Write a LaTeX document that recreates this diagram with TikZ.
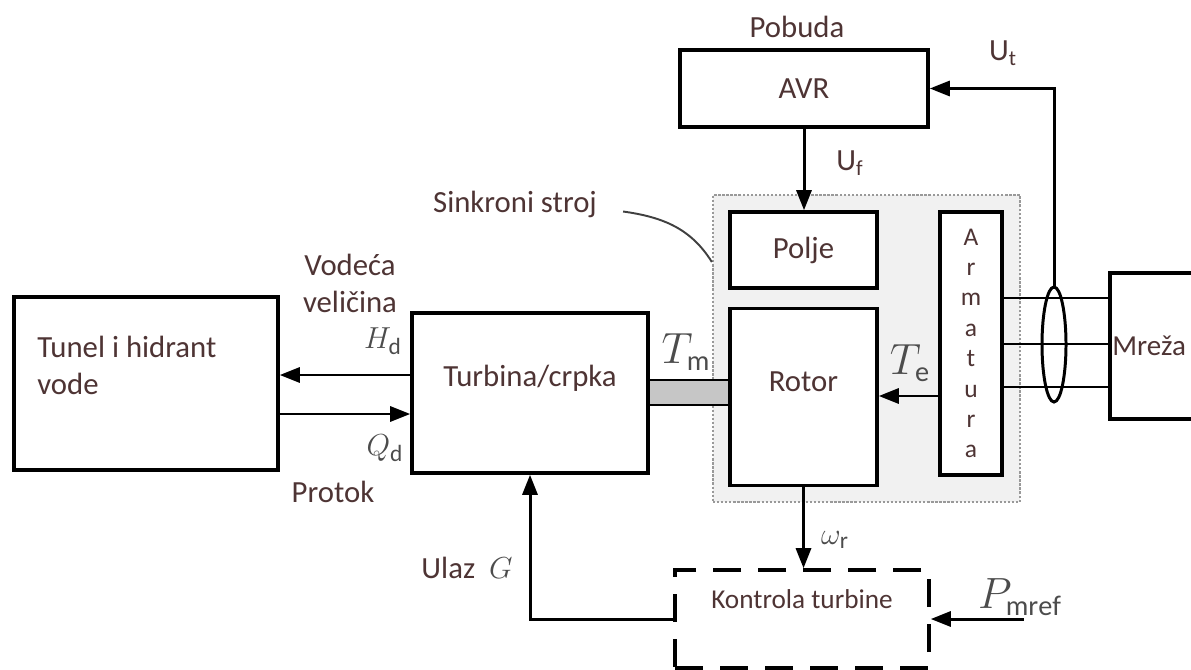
\documentclass[tikz,border=0pt]{standalone}
\usepackage{amsmath}
\usepackage{fontspec}
\setmainfont{Carlito}
\usetikzlibrary{positioning,arrows.meta,calc,shapes.geometric}
\definecolor{txtbrown}{RGB}{78,52,52}
\newcommand{\txtfs}{\fontsize{17.5}{21}\selectfont}
\newcommand{\smtxtfs}{\fontsize{15.5}{19}\selectfont}
\newcommand{\armfs}{\fontsize{14.5}{17.3}\selectfont}
\newcommand{\symfs}{\fontsize{19}{22}\selectfont}
\newcommand{\bigsymfs}{\fontsize{23}{26}\selectfont}
\newcommand{\lift}[2]{\raisebox{#1}[0pt][0pt]{#2}}

\begin{document}
\begin{tikzpicture}[
    box/.style={draw, line width=2pt, fill=white, align=center, font=\txtfs, text=txtbrown, inner sep=0pt},
    dashbox/.style={box, dash pattern=on 0.56cm off 0.34cm},
    frame/.style={draw=gray!80, densely dotted, line width=1.3pt, fill=gray!11},
    arrow/.style={-{Triangle[length=0.4cm,width=0.3cm]}, line width=1.7pt},
    wire/.style={line width=1.7pt},
    lbl/.style={font=\txtfs, text=txtbrown, align=center},
    sym/.style={font=\symfs, text=black!70},
    bigsym/.style={font=\bigsymfs, text=black!70}
]
\useasboundingbox (0,0) rectangle (23.82,-13.4);

% ========== SYNCHRONOUS MACHINE FRAME ==========
\node[frame, minimum width=6.14cm, minimum height=6.14cm] (stroj) at (17.33,-6.97) {};

% ========== BLOCKS ==========
\node[box, minimum width=5.28cm, minimum height=3.46cm] (tunel) at (2.92,-7.67) {};
\node[lbl, align=left, inner sep=0pt, anchor=north west] (tuneltxt) at (0.74,-6.72) {Tunel i hidrant\\vode};
\node[box, minimum width=4.72cm, minimum height=3.2cm] (turb) at (10.6,-7.86) {\lift{0.14cm}{Turbina/crpka}};
\node[box, minimum width=2.94cm, minimum height=1.52cm] (polje) at (16.07,-5.0) {Polje};
\node[box, minimum width=2.94cm, minimum height=3.54cm, below=0.34cm of polje] (rotor) {\lift{0.11cm}{Rotor}};
\node[box, minimum width=1.24cm, minimum height=5.26cm, font=\armfs] (arm) at (19.42,-6.87) {A\\r\\m\\a\\t\\u\\r\\a};
\node[box, minimum width=4.96cm, minimum height=1.54cm] (avr) at (16.08,-1.77) {AVR};
\node[box, minimum width=2.0cm, minimum height=2.92cm, anchor=west] (mreza) at (22.16,-6.92) {};
\node[lbl, font=\fontsize{16.5}{20}\selectfont, inner sep=0pt, anchor=west] (mrezatxt) at (22.24,-6.92) {Mreža};
\node[dashbox, font=\smtxtfs, minimum width=5.08cm, minimum height=1.96cm] (kontrola) at (16.04,-12.38) {\lift{0.22cm}{Kontrola turbine}};

% ========== SHAFT ==========
\coordinate (sh1) at ([yshift=0.26cm]turb.east);
\coordinate (sh2) at ([yshift=-0.24cm]turb.east);
\fill[gray!45] (sh1) rectangle (sh2 -| rotor.west);
\draw[wire] (sh1) -- (sh1 -| rotor.west) (sh2) -- (sh2 -| rotor.west);

% ========== GRID WIRES ==========
\foreach \dy in {0.91,-0.01,-0.87} {
    \coordinate (w) at ([yshift=\dy cm]arm.east);
    \draw[wire] (w) -- (w -| mreza.west);
}
\node[draw, ellipse, line width=1.7pt, minimum width=0.48cm, minimum height=2.3cm, inner sep=0pt] (ring) at (21.08,-6.89) {};

% ========== SIGNALS ==========
\coordinate (hd) at ([yshift=0.36cm]turb.west);
\coordinate (qd) at ([yshift=-0.42cm]turb.west);
\draw[arrow] (hd) -- (hd -| tunel.east);
\draw[arrow] (qd -| tunel.east) -- (qd);
\coordinate (te) at ([yshift=-1.05cm]arm.west);
\draw[arrow] (te) -- (te -| rotor.east);
\draw[arrow] (avr.south) -- (avr.south |- polje.north);
\draw[arrow] (ring.north) |- (avr.east);
\draw[arrow] (rotor.south) -- (rotor.south |- kontrola.north);
\draw[arrow] (kontrola.west) -| (turb.south);
\coordinate (pref) at ([xshift=1.86cm]kontrola.east);
\draw[arrow] (pref) -- (kontrola.east);

% ========== LABELS ==========
\node[lbl] (pobuda) at (15.94,-0.54) {Pobuda};
\node[lbl] (uf) at (17.0,-3.26) {U\textsubscript{f}};
\node[lbl] (ut) at (20.06,-1.06) {U\textsubscript{t}};
\node[lbl] (vodeca) at (7.0,-5.66) {Vodeća\\veličina};
\node[lbl] (protok) at (6.66,-9.84) {Protok};
\node[lbl] (ulaz) at (9.34,-11.36) {Ulaz\ \ {\symfs\color{black!70}$G$}};
\node[lbl] (sinlbl) at (10.3,-4.08) {Sinkroni stroj};
\node[sym] (hdlbl) at (7.66,-6.82) {$H_{\mathrm{d}}$};
\node[sym] (qdlbl) at (7.7,-8.96) {$Q_{\mathrm{d}}$};
\node[bigsym] (tmlbl) at (13.72,-7.04) {$T_{\mathrm{m}}$};
\node[bigsym] (telbl) at (18.2,-7.26) {$T_{\mathrm{e}}$};
\node[sym] (wrlbl) at (16.7,-10.8) {$\omega_{\mathrm{r}}$};
\node[bigsym] (preflbl) at (20.4,-11.94) {$P_{\mathrm{mref}}$};

% pointer to the machine frame
\coordinate (tip) at ([yshift=1.73cm]stroj.west);
\draw[line width=1.1pt, black!75] ([xshift=0.4cm,yshift=-0.15cm]sinlbl.east) to[out=-8,in=122] (tip);

\end{tikzpicture}
\end{document}
